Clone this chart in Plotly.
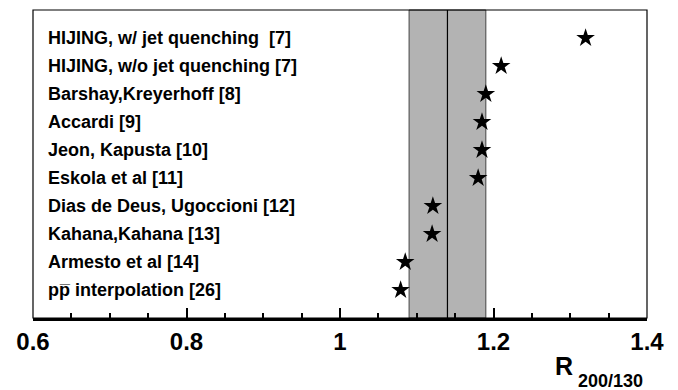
import plotly.graph_objects as go

models = [
    "HIJING, w/ jet quenching  [7]",
    "HIJING, w/o jet quenching [7]",
    "Barshay,Kreyerhoff [8]",
    "Accardi [9]",
    "Jeon, Kapusta [10]",
    "Eskola et al [11]",
    "Dias de Deus, Ugoccioni [12]",
    "Kahana,Kahana [13]",
    "Armesto et al [14]",
    "pp\u0305 interpolation [26]",
]
ratios = [1.32, 1.21, 1.19, 1.185, 1.185, 1.18, 1.121, 1.12, 1.085, 1.079]
measured = 1.14
band_low = 1.09
band_high = 1.19
x_ticks = [0.6, 0.8, 1.0, 1.2, 1.4]
x_tick_text = ["0.6", "0.8", "1", "1.2", "1.4"]

ypos = list(range(len(models)))
FONT = "Liberation Sans, Arial, sans-serif"

fig = go.Figure()
fig.add_shape(type="rect", xref="x", yref="paper", x0=band_low, x1=band_high, y0=0, y1=1,
              fillcolor="#b3b3b3", line=dict(color="#444444", width=1), layer="below")
fig.add_shape(type="line", xref="x", yref="paper", x0=measured, x1=measured, y0=0, y1=1,
              line=dict(color="black", width=1.2))
fig.add_shape(type="rect", xref="paper", yref="paper", x0=0, x1=1, y0=0, y1=1,
              line=dict(color="black", width=1.2))

fig.add_trace(go.Scatter(x=ratios, y=ypos, mode="markers",
                         marker=dict(symbol="star", size=14, color="black",
                                     line=dict(width=0)),
                         hoverinfo="skip", showlegend=False))

for m, y in zip(models, ypos):
    fig.add_annotation(x=0.617, y=y, xref="x", yref="y", text=m,
                       showarrow=False, xanchor="left", yanchor="middle",
                       font=dict(family=FONT, size=18, color="black", weight="bold"))

fig.add_annotation(x=1.0, xref="paper", y=-0.155, yref="paper",
                   text="R", showarrow=False, xanchor="right", yanchor="middle",
                   xshift=-72, font=dict(family=FONT, size=25, color="black", weight="bold"))
fig.add_annotation(x=1.0, xref="paper", y=-0.203, yref="paper",
                   text="200/130", showarrow=False, xanchor="right", yanchor="middle",
                   xshift=-2, font=dict(family=FONT, size=18, color="black", weight="bold"))

fig.update_layout(
    width=678, height=390,
    margin=dict(l=33, r=31, t=10, b=72, autoexpand=False),
    plot_bgcolor="white", paper_bgcolor="white",
    xaxis=dict(range=[0.6, 1.4], tickvals=x_ticks, ticktext=x_tick_text,
               ticks="inside", ticklen=10, tickwidth=1.5, tickcolor="black",
               showline=True, linecolor="black", linewidth=2.5,
               showgrid=False, zeroline=False, automargin=False,
               ticklabelstandoff=0,
               tickfont=dict(family=FONT, size=24, color="black", weight="bold"),
               minor=dict(dtick=0.05, tick0=0.6, ticks="inside", ticklen=5, tickwidth=1.5, tickcolor="black")),
    yaxis=dict(range=[10, -1], showticklabels=False, ticks="", showgrid=False,
               zeroline=False, showline=False, automargin=False),
    font=dict(family=FONT),
)

fig.write_html("out.html", config={"displayModeBar": False},
               post_script="document.body.style.margin='0';")
